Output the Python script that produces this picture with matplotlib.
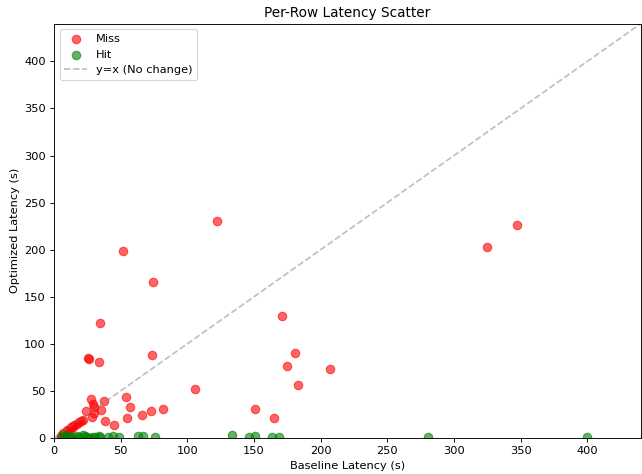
import matplotlib
matplotlib.use("Agg")
import matplotlib.pyplot as plt

# rows where the cache missed (baseline, optimized)
miss_base = [122.3, 51.8, 74.3, 34.5, 25.5, 26.3, 33.8, 73.5, 171, 180.6,
             174.9, 183, 207, 165, 151, 105.8, 325, 347.5,
             28, 37.8, 53.8, 57, 24.3, 29.5, 29.8, 35.5, 28.8, 30.3,
             38.5, 45.3, 54.8, 66, 73, 81.5,
             22, 19, 15, 12.5, 9.5, 7, 6, 12, 17, 10.5, 8, 5, 14, 20]
miss_opt = [230.7, 198.9, 166, 121.7, 84.7, 84.2, 80.4, 87.8, 130, 90,
            76, 56, 73, 21, 31, 51.8, 203, 226.5,
            41.3, 39.5, 43, 33, 28.6, 35.6, 32.5, 29.3, 21.9, 26,
            18, 14, 21.2, 24.7, 28.2, 30.7,
            19, 17, 13.4, 11.3, 8.5, 5.6, 3, 9, 15, 7, 4, 2, 12, 17.5]

# rows where the cache hit
hit_base = [7.5, 10.7, 17, 22, 23.3, 29.5, 34, 34.5, 40.7, 44.5, 48.8,
            63.3, 67, 75.8, 133.6, 146, 151, 163.6, 168.8, 280.7, 400,
            5, 9, 12, 14, 19, 25, 27, 31]
hit_opt = [3, 2, 2.5, 3, 2, 1, 2, 1.5, 1, 2, 1,
           2, 2.5, 1.5, 3, 1, 2, 1.5, 1.5, 1.5, 1.5,
           1, 1.5, 0.5, 1, 1.5, 1, 0.5, 1]

dpi = 82
fig = plt.figure(figsize=(642 / dpi, 474 / dpi), dpi=dpi)
ax = fig.add_axes([0.084, 0.076, 0.914, 0.874])

ax.scatter(miss_base, miss_opt, color="red", alpha=0.6, s=55, label="Miss")
ax.scatter(hit_base, hit_opt, color="green", alpha=0.6, s=55, label="Hit")

lim = max(max(miss_base), max(hit_base), max(miss_opt)) * 1.1
ax.plot([0, lim], [0, lim], "--", color="gray", alpha=0.5, label="y=x (No change)")
ax.set_xlim(0, lim)
ax.set_ylim(0, lim)

ax.set_xlabel("Baseline Latency (s)")
ax.set_ylabel("Optimized Latency (s)")
ax.set_title("Per-Row Latency Scatter")
ax.legend(loc="upper left")

fig.savefig("out.png", dpi=dpi)
